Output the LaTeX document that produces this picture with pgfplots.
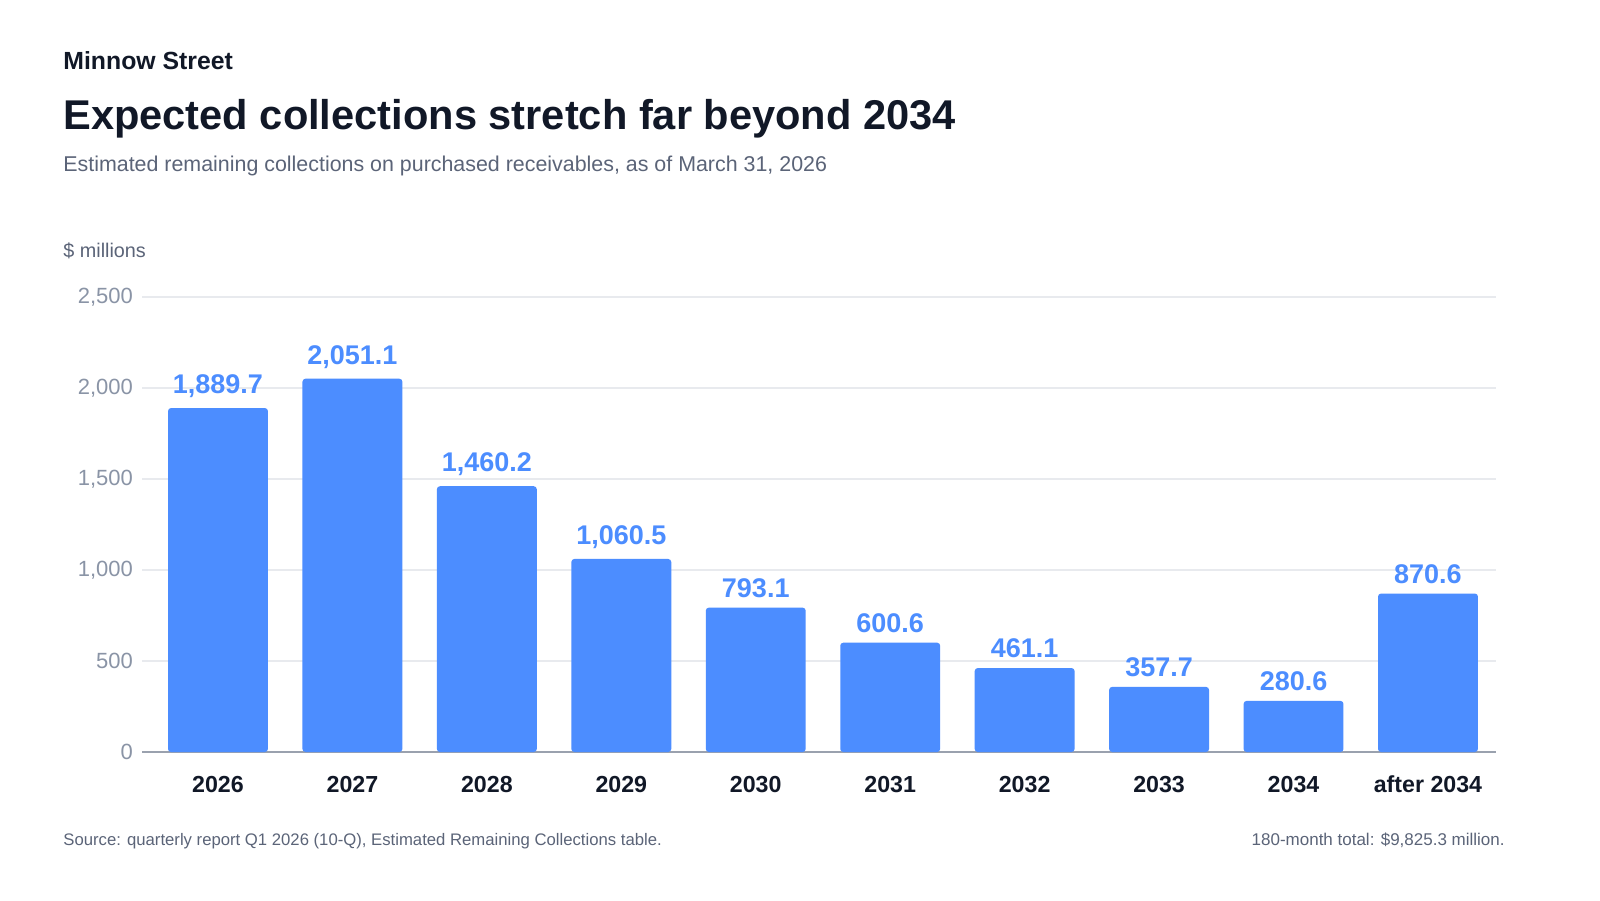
\documentclass[border=0pt]{standalone}
\usepackage{pgfplots}
\pgfplotsset{compat=1.18}
\usepackage{fontspec}
\setmainfont{Liberation Sans}
\definecolor{barblue}{HTML}{4C8DFF}
\definecolor{titlec}{HTML}{111827}
\definecolor{subc}{HTML}{5B6478}
\definecolor{tickc}{HTML}{8A94A6}
\definecolor{gridc}{HTML}{E8EAEE}
\definecolor{axisc}{HTML}{9AA1AE}
\pgfplotstableread{
x y
0 1889.7
1 2051.1
2 1460.2
3 1060.5
4 793.1
5 600.6
6 461.1
7 357.7
8 280.6
9 870.6
}\datatable
\begin{document}
\begin{tikzpicture}
\useasboundingbox[fill=white] (0,0) rectangle (800pt,450pt);
\node[anchor=base west, font=\bfseries\fontsize{12.4}{14}\selectfont, text=titlec, inner sep=0] at (31.5pt,415pt) {Minnow Street};
\node[anchor=base west, font=\bfseries\fontsize{20.8}{25}\selectfont, text=titlec, inner sep=0] at (31.5pt,385pt) {Expected collections stretch far beyond 2034};
\node[anchor=base west, font=\fontsize{10.7}{12}\selectfont, text=subc, inner sep=0] at (31.5pt,364pt) {Estimated remaining collections on purchased receivables, as of March 31, 2026};
\node[anchor=base west, font=\fontsize{9.9}{11}\selectfont, text=subc, inner sep=0] at (31.5pt,321pt) {\$ millions};
\node[anchor=base west, font=\fontsize{8.35}{10}\selectfont, text=subc, inner sep=0] at (31.5pt,27.5pt) {Source: quarterly report Q1 2026 (10-Q), Estimated Remaining Collections table.};
\node[anchor=base east, font=\fontsize{8.5}{10}\selectfont, text=subc, inner sep=0] at (752.5pt,27.5pt) {180-month total: \$9,825.3 million.};
\begin{axis}[
  at={(71pt,74pt)}, anchor=south west,
  scale only axis, width=677pt, height=227.5pt,
  xmin=-0.565, xmax=9.506, ymin=0, ymax=2500,
  ybar, bar width=0.743,
  axis x line*=bottom, axis y line*=left,
  x axis line style={draw=axisc, line width=1pt, -},
  y axis line style={draw=none},
  xtick=data,
  xticklabels={2026,2027,2028,2029,2030,2031,2032,2033,2034,after 2034},
  ytick={0,500,1000,1500,2000,2500},
  major tick length=0pt,
  ymajorgrids, grid style={draw=gridc, line width=0.6pt},
  /pgf/number format/assume math mode=true,
  /pgf/number format/1000 sep={,},
  yticklabel style={font=\fontsize{11}{13}\selectfont, text=tickc, xshift=-1pt},
  xticklabel style={font=\bfseries\fontsize{11.6}{13}\selectfont, text=titlec, yshift=-8.5pt},
  nodes near coords,
  nodes near coords style={font=\bfseries\fontsize{13.5}{15}\selectfont, text=barblue,
    /pgf/number format/fixed, /pgf/number format/precision=1, /pgf/number format/fixed zerofill,
    /pgf/number format/1000 sep={,}, /pgf/number format/assume math mode=true, yshift=1.5pt},
  clip=false,
]
\addplot[fill=barblue, draw=none, rounded corners=1.5pt] table[x=x,y=y] {\datatable};
\end{axis}
\end{tikzpicture}
\end{document}
